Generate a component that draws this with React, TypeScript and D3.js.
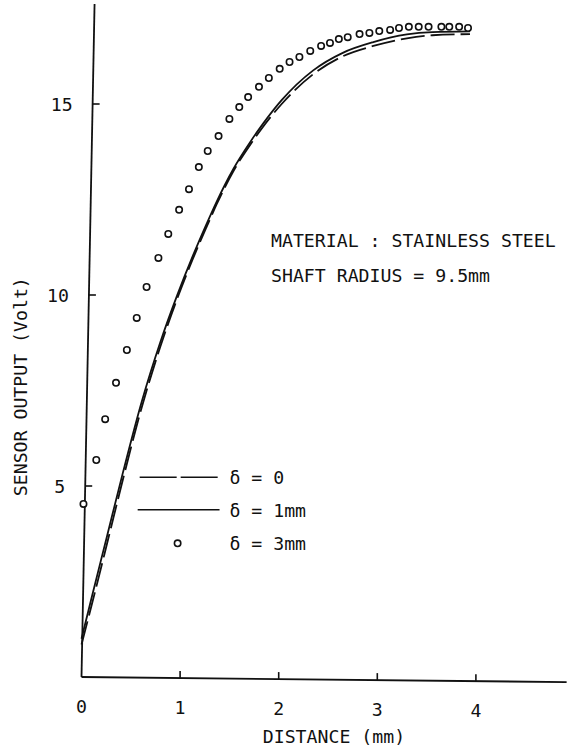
import React from "react";
import * as d3 from "d3";

const WIDTH = 571;
const HEIGHT = 749;

// Distance (mm) at which the two computed curves are sampled
const curveDistance = [0, 0.1, 0.26, 0.42, 0.61, 0.8, 0.97, 1.13, 1.27, 1.37, 1.54, 1.71, 1.84, 2.03, 2.35, 2.65, 2.96, 3.3, 3.56, 3.94];
// Sensor output (V) for δ = 0 (dashed curve)
const outputDelta0 = [0.85, 1.85, 3.5, 5.17, 7.05, 8.65, 9.9, 10.95, 11.79, 12.37, 13.24, 13.93, 14.4, 15.0, 15.78, 16.25, 16.52, 16.72, 16.8, 16.83];
// Sensor output (V) for δ = 1mm (solid curve)
const outputDelta1 = [1.0, 2.05, 3.7, 5.35, 7.2, 8.77, 9.99, 11.03, 11.87, 12.44, 13.3, 14.0, 14.48, 15.1, 15.88, 16.34, 16.62, 16.82, 16.88, 16.9];

// Distance (mm) and sensor output (V) for δ = 3mm (open circles)
const circleDistance = [0.02, 0.15, 0.24, 0.35, 0.46, 0.56, 0.66, 0.78, 0.88, 0.99, 1.09, 1.19, 1.28, 1.39, 1.5, 1.6, 1.69, 1.8, 1.9, 2.01, 2.11, 2.21, 2.32, 2.43, 2.52, 2.61, 2.7, 2.82, 2.92, 3.02, 3.13, 3.22, 3.32, 3.42, 3.52, 3.65, 3.73, 3.83, 3.92];
const outputDelta3 = [4.53, 5.68, 6.75, 7.7, 8.56, 9.4, 10.21, 10.97, 11.6, 12.23, 12.77, 13.35, 13.77, 14.16, 14.61, 14.92, 15.18, 15.45, 15.68, 15.92, 16.1, 16.23, 16.39, 16.52, 16.6, 16.7, 16.75, 16.83, 16.86, 16.91, 16.94, 16.99, 17.02, 17.02, 17.02, 17.02, 17.02, 17.02, 16.99];

// Axis ticks
const xTicks = [0, 1, 2, 3, 4];
const yTicks = [5, 10, 15];

// Legend entries
const legendLabels = ["δ = 0", "δ = 1mm", "δ = 3mm"];

const FONT = "'DejaVu Sans Mono', 'Liberation Mono', monospace";
const FONT_SIZE = 18.2;
const INK = "#111";

export default function App() {
  const x = d3.scaleLinear().domain([0, 4]).range([81.5, 475.9]);
  const y = d3.scaleLinear().domain([0, 15]).range([677, 104]);

  const x0 = x(0);
  const y0 = y(0);
  // the axes of the plate are very slightly out of square
  const yAxisX = (py: number) => x0 + (y0 - py) * 0.0194;
  const xAxisY = (px: number) => y0 + (px - x0) * 0.0105;

  const yTop = y(17.62);
  const xRight = x(4.92);

  const line = d3
    .line<number>()
    .x((_, i) => x(curveDistance[i]))
    .curve(d3.curveMonotoneX);

  const dashedPath = line.y((d) => y(d))(outputDelta0) || "";
  const solidPath = line.y((d) => y(d))(outputDelta1) || "";

  // legend geometry
  const legX1 = x(0.59);
  const legX2 = x(1.4);
  const legRowY = [y(5.23), y(4.38), y(3.5)];
  const legTextX = x(1.5);

  return (
    <svg
      width={WIDTH}
      height={HEIGHT}
      viewBox={`0 0 ${WIDTH} ${HEIGHT}`}
      style={{ position: "absolute", left: 0, top: 0, background: "#fff" }}
      fontFamily={FONT}
      fontSize={FONT_SIZE}
    >
      <rect width={WIDTH} height={HEIGHT} fill="#fff" />

      {/* axes */}
      <line x1={x0} y1={y0} x2={yAxisX(yTop)} y2={yTop} stroke={INK} strokeWidth={1.8} />
      <line x1={x0} y1={y0} x2={xRight} y2={xAxisY(xRight)} stroke={INK} strokeWidth={1.8} />

      {/* y ticks */}
      {yTicks.map((t) => {
        const py = y(t);
        const ax = yAxisX(py);
        return (
          <g key={`yt${t}`}>
            <line x1={ax} y1={py} x2={ax + 7} y2={py} stroke={INK} strokeWidth={1.6} />
            <text x={ax - 20} y={py + 7} textAnchor="end" fill={INK}>
              {t}
            </text>
          </g>
        );
      })}

      {/* x ticks */}
      {xTicks.map((t) => {
        const px = x(t);
        const ay = xAxisY(px);
        return (
          <g key={`xt${t}`}>
            {t > 0 && <line x1={px} y1={ay} x2={px} y2={ay - 7} stroke={INK} strokeWidth={1.6} />}
            <text x={px} y={ay + 36} textAnchor="middle" fill={INK}>
              {t}
            </text>
          </g>
        );
      })}

      {/* axis titles */}
      <text x={x(2.56)} y={743} textAnchor="middle" fill={INK}>
        DISTANCE (mm)
      </text>
      <text
        transform={`translate(27, ${y(7.6)}) rotate(-90)`}
        textAnchor="middle"
        fill={INK}
      >
        SENSOR OUTPUT (Volt)
      </text>

      {/* curves */}
      <path d={dashedPath} fill="none" stroke={INK} strokeWidth={1.8} strokeDasharray="24,6" />
      <path d={solidPath} fill="none" stroke={INK} strokeWidth={1.8} />

      {/* measured points */}
      {circleDistance.map((d, i) => (
        <circle
          key={`c${i}`}
          cx={x(d)}
          cy={y(outputDelta3[i])}
          r={3.2}
          fill="#fff"
          stroke={INK}
          strokeWidth={1.6}
        />
      ))}

      {/* annotation */}
      <text x={271} y={y(11.25)} fill={INK}>
        MATERIAL : STAINLESS STEEL
      </text>
      <text x={271} y={y(10.33)} fill={INK}>
        SHAFT RADIUS = 9.5mm
      </text>

      {/* legend */}
      <line x1={legX1} y1={legRowY[0]} x2={legX2} y2={legRowY[0]} stroke={INK} strokeWidth={1.6} strokeDasharray="37,4" />
      <line x1={legX1 - 2} y1={legRowY[1]} x2={legX2} y2={legRowY[1]} stroke={INK} strokeWidth={1.6} />
      <circle cx={(legX1 + legX2) / 2 - 2} cy={legRowY[2]} r={3.2} fill="#fff" stroke={INK} strokeWidth={1.6} />
      {legendLabels.map((lab, i) => (
        <text key={lab} x={legTextX} y={legRowY[i] + 7} fill={INK}>
          {lab}
        </text>
      ))}
    </svg>
  );
}
